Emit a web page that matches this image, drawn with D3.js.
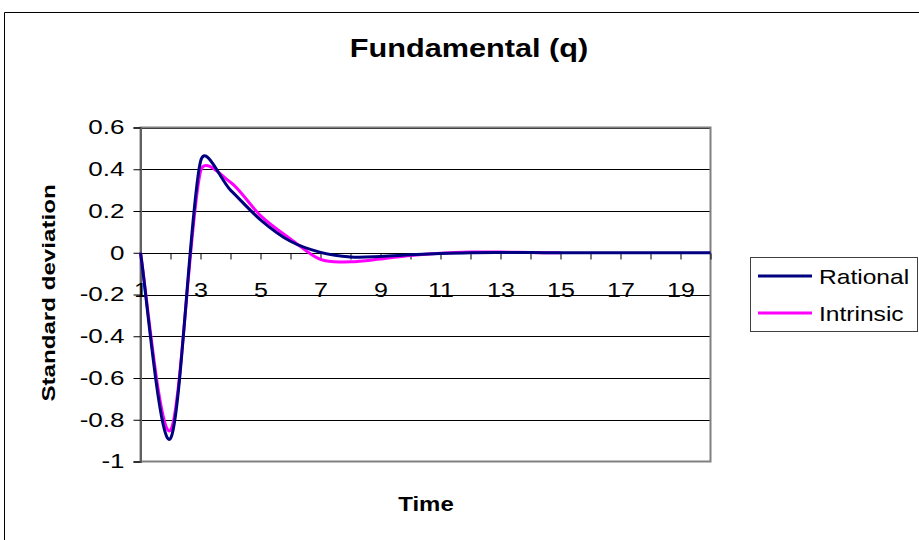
<!DOCTYPE html>
<html>
<head>
<meta charset="utf-8">
<script src="https://cdn.jsdelivr.net/npm/d3@7"></script>
<style>
  body { margin: 0; background: #fff; }
  svg { display: block; }
  text { font-family: "Liberation Sans", Arial, Helvetica, sans-serif; fill: #000; }
</style>
</head>
<body>
<svg id="chart" width="919" height="540"></svg>
<script>
// Impulse response of the fundamental (q), periods 1..20
const periods = d3.range(1, 21);
const rational = [0, -0.89, 0.437, 0.3, 0.158, 0.055, 0.002, -0.02, -0.018, -0.01,
                  -0.004, 0.0, 0.001, 0.001, 0.0, 0.0, 0.0, 0.0, 0.0, 0.0];
const intrinsic = [0, -0.85, 0.39, 0.338, 0.178, 0.066, -0.032, -0.043, -0.03, -0.013,
                   -0.002, 0.003, 0.003, 0.001, 0.0];
const yTicks = [-1, -0.8, -0.6, -0.4, -0.2, 0, 0.2, 0.4, 0.6];
const xLabels = [1, 3, 5, 7, 9, 11, 13, 15, 17, 19];
const seriesNames = ["Rational", "Intrinsic"];
const seriesColors = ["#000080", "#ff00ff"];

const svg = d3.select("#chart");
const plot = { left: 140.5, right: 710.5, top: 127.5, bottom: 461.5 };

const x = d3.scaleLinear().domain([1, 20]).range([plot.left, plot.right]);
const y = d3.scaleLinear().domain([-1, 0.6]).range([plot.bottom, plot.top]);

// widen rendered text to a given factor of its natural width
function stretch(sel, k) {
  sel.each(function () {
    const w = this.getComputedTextLength();
    if (w > 0) {
      d3.select(this).attr("textLength", w * k).attr("lengthAdjust", "spacingAndGlyphs");
    }
  });
}

// spreadsheet-style smoothing: Bezier segments with 1/6 tangents,
// control arms clamped to half the length of the segment they sit on
function smoothCurve(context) {
  let pts;
  return {
    areaStart() {}, areaEnd() {},
    lineStart() { pts = []; },
    point(px, py) { pts.push([+px, +py]); },
    lineEnd() {
      const n = pts.length;
      if (!n) return;
      context.moveTo(pts[0][0], pts[0][1]);
      for (let i = 0; i < n - 1; i++) {
        const p0 = pts[Math.max(i - 1, 0)], p1 = pts[i], p2 = pts[i + 1], p3 = pts[Math.min(i + 2, n - 1)];
        const d12 = Math.hypot(p2[0] - p1[0], p2[1] - p1[1]);
        const d02 = Math.hypot(p2[0] - p0[0], p2[1] - p0[1]);
        const d13 = Math.hypot(p3[0] - p1[0], p3[1] - p1[1]);
        let f1 = 1 / 6, f2 = 1 / 6;
        if (d02 * f1 > d12 / 2) f1 = d12 / (2 * d02);
        if (d13 * f2 > d12 / 2) f2 = d12 / (2 * d13);
        context.bezierCurveTo(
          p1[0] + (p2[0] - p0[0]) * f1, p1[1] + (p2[1] - p0[1]) * f1,
          p2[0] - (p3[0] - p1[0]) * f2, p2[1] - (p3[1] - p1[1]) * f2,
          p2[0], p2[1]);
      }
    }
  };
}

// outer chart frame (runs off the right and bottom edges)
svg.append("path")
  .attr("d", "M4.5,545V12.5H925")
  .attr("fill", "none").attr("stroke", "#000").attr("stroke-width", 1);

// title
svg.append("text")
  .attr("x", 469).attr("y", 57)
  .attr("text-anchor", "middle")
  .attr("font-size", 26).attr("font-weight", "bold")
  .text("Fundamental (q)")
  .call(stretch, 1.18);

// horizontal gridlines
svg.append("g").selectAll("line")
  .data(yTicks.filter(d => d > -1))
  .join("line")
  .attr("x1", plot.left).attr("x2", plot.right)
  .attr("y1", d => Math.round(y(d)) + 0.5).attr("y2", d => Math.round(y(d)) + 0.5)
  .attr("stroke", "#000").attr("stroke-width", 1);

// plot area border
svg.append("rect")
  .attr("x", plot.left).attr("y", plot.top)
  .attr("width", plot.right - plot.left).attr("height", plot.bottom - plot.top)
  .attr("fill", "none").attr("stroke", "#808080").attr("stroke-width", 2);

// y axis
const yAxis = svg.append("g")
  .attr("transform", `translate(${plot.left},0)`)
  .call(d3.axisLeft(y).tickValues(yTicks).tickSize(7).tickPadding(9)
    .tickFormat(d => String(+d.toFixed(1))));
yAxis.select(".domain").attr("stroke", "#606060").attr("stroke-width", 2);
yAxis.selectAll(".tick line").attr("stroke", "#000");
yAxis.selectAll(".tick text").attr("font-size", 20).attr("font-family", null)
  .call(stretch, 1.3);

// x axis on the zero line
const xAxis = svg.append("g")
  .attr("transform", `translate(0,${Math.round(y(0)) + 0.5})`)
  .call(d3.axisBottom(x).tickValues(periods).tickSize(6).tickPadding(23)
    .tickFormat(d => xLabels.includes(d) ? d : ""));
xAxis.select(".domain").remove();
xAxis.selectAll(".tick line").attr("stroke", "#000");
xAxis.selectAll(".tick text").attr("font-size", 20).attr("font-family", null)
  .call(stretch, 1.25);

// axis titles
svg.append("text")
  .attr("transform", "translate(55,293) rotate(-90)")
  .attr("text-anchor", "middle")
  .attr("font-size", 19).attr("font-weight", "bold")
  .text("Standard deviation")
  .call(stretch, 1.27);

svg.append("text")
  .attr("x", 426).attr("y", 511)
  .attr("text-anchor", "middle")
  .attr("font-size", 21).attr("font-weight", "bold")
  .text("Time")
  .call(stretch, 1.14);

// smoothed series lines
const line = d3.line()
  .x((d, i) => x(periods[i]))
  .y(d => y(d))
  .curve(smoothCurve);

const series = [rational, intrinsic];
svg.append("g").selectAll("path")
  .data([1, 0])
  .join("path")
  .attr("d", i => line(series[i]))
  .attr("fill", "none")
  .attr("stroke", i => seriesColors[i])
  .attr("stroke-width", 3)
  .attr("stroke-linejoin", "round");

// legend
const legend = svg.append("g");
legend.append("rect")
  .attr("x", 750.5).attr("y", 257.5).attr("width", 167).attr("height", 74)
  .attr("fill", "#fff").attr("stroke", "#404040").attr("stroke-width", 1);
const items = legend.selectAll("g.item")
  .data(seriesNames)
  .join("g").attr("class", "item")
  .attr("transform", (d, i) => `translate(0,${276 + i * 37})`);
items.append("line")
  .attr("x1", 758).attr("x2", 812)
  .attr("stroke", (d, i) => seriesColors[i]).attr("stroke-width", 3);
items.append("text")
  .attr("x", 819).attr("y", 8)
  .attr("font-size", 21)
  .text(d => d)
  .call(stretch, 1.17);
</script>
</body>
</html>
